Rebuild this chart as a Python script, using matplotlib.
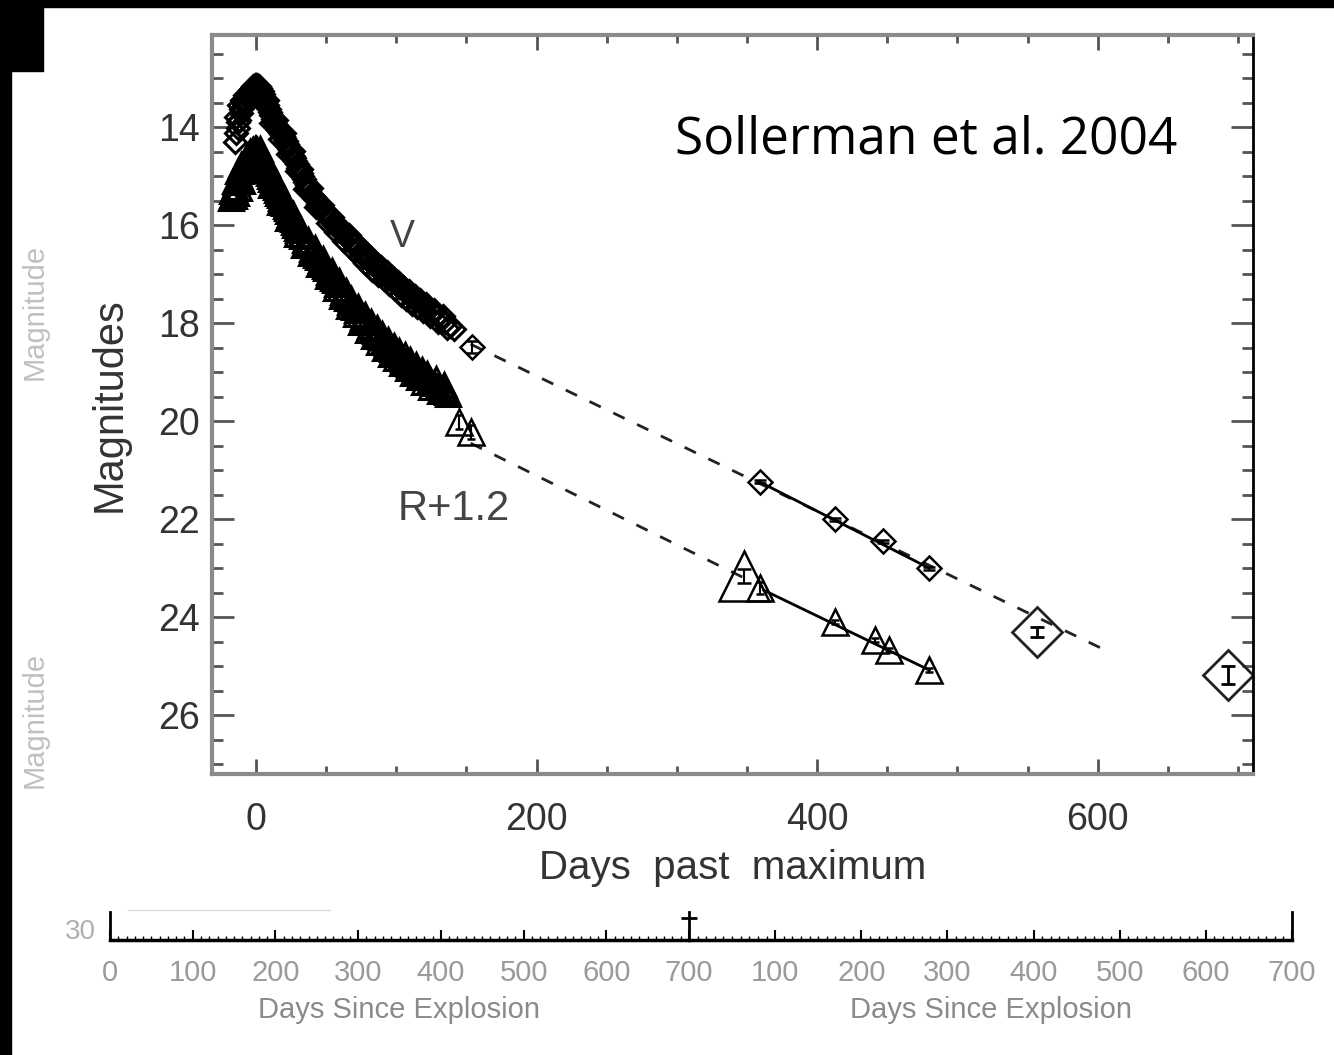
import matplotlib
matplotlib.use("Agg")
import matplotlib.pyplot as plt
from matplotlib.patches import Rectangle
from matplotlib.ticker import MultipleLocator

plt.rcParams['font.family'] = ['Liberation Sans', 'DejaVu Sans']

# V band (diamonds), days past maximum / magnitude
v_days = [-15, -14, -13, -13, -12, -11, -11, -10, -9, -8, -7, -6, -5, -4, -3, -2, -1, 0,
          1, 2, 3, 4, 5, 6, 7, 8, 9, 10, 11, 12, 13, 14, 15, 16, 17, 18, 19, 20,
          21, 22, 23, 24, 25, 26, 27, 28, 29, 30, 31, 32, 33, 34, 35, 36, 37, 38,
          40, 41, 42, 44, 45, 46, 48, 49, 50, 52, 53, 55, 56, 58, 59, 61, 62, 64,
          65, 67, 68, 70, 72, 73, 75, 77, 79, 80, 82, 84, 86, 88, 90, 92, 94, 96,
          98, 100, 102, 104, 106, 108, 110, 112, 114, 116, 118, 120, 123, 126, 129,
          132, 135, 138, 141]
v_mags = [14.30, 14.12, 14.02, 13.90, 13.85, 13.72, 13.62, 13.60, 13.50, 13.45, 13.38,
          13.33, 13.28, 13.24, 13.20, 13.17, 13.15, 13.14,
          13.15, 13.17, 13.21, 13.27, 13.33, 13.40, 13.47, 13.55, 13.62, 13.70, 13.76,
          13.83, 13.90, 13.95, 14.00, 14.05, 14.09, 14.14, 14.18, 14.22,
          14.28, 14.34, 14.40, 14.46, 14.52, 14.58, 14.64, 14.70, 14.76, 14.83, 14.88,
          14.94, 15.00, 15.06, 15.12, 15.18, 15.24, 15.30,
          15.38, 15.43, 15.47, 15.56, 15.60, 15.65, 15.72, 15.77, 15.80, 15.86, 15.89,
          15.96, 15.99, 16.05, 16.08, 16.14, 16.17, 16.23,
          16.26, 16.32, 16.35, 16.41, 16.47, 16.50, 16.56, 16.62, 16.68, 16.71, 16.77,
          16.82, 16.87, 16.92, 16.97, 17.02, 17.07, 17.11,
          17.16, 17.21, 17.26, 17.30, 17.35, 17.40, 17.44, 17.49, 17.53, 17.57, 17.61,
          17.65, 17.72, 17.79, 17.85,
          17.92, 17.98, 18.05, 18.12]
# second V data set (other telescopes), scattered around the first
v2_days = [-14, -12, -10, -8, -5, -2, 2, 5, 8, 11, 14, 17, 20, 23, 26, 29, 32, 35, 39,
           43, 47, 51, 54, 57, 60, 63, 66, 69, 71, 74, 76, 78, 81, 83, 85, 87, 89, 91,
           93, 95, 97, 99, 101, 103, 105, 107, 109, 111, 113, 115, 117, 119, 121, 124,
           127, 130, 133, 136]
v2_mags = [13.80, 13.55, 13.45, 13.35, 13.40, 13.28, 13.30, 13.50, 13.45, 13.92, 13.85,
           14.25, 14.12, 14.55, 14.48, 14.90, 14.85, 15.27, 15.24,
           15.64, 15.58, 15.96, 15.84, 16.14, 16.03, 16.32, 16.21, 16.50, 16.36, 16.65,
           16.51, 16.77, 16.66, 16.91, 16.76, 17.01, 16.86, 17.10,
           16.96, 17.21, 17.06, 17.31, 17.17, 17.42, 17.26, 17.51, 17.35, 17.60, 17.44,
           17.68, 17.52, 17.76, 17.60, 17.86,
           17.73, 17.98, 17.86, 18.10]

# R+1.2 band (triangles)
r_days = [-17, -16, -15, -14, -13, -12, -11, -10, -9, -8, -7, -6, -5, -4, -3, -2, -1, 0,
          1, 2, 3, 4, 5, 6, 7, 8, 9, 10, 11, 12, 13, 14, 15, 16, 17, 18, 19, 20,
          21, 22, 23, 24, 25, 26, 27, 28, 29, 30, 32, 33, 35, 36, 38, 40, 41, 43, 44,
          46, 47, 49, 50, 52, 53, 55, 56, 58, 60, 62, 63, 65, 67, 69, 70, 72, 74, 76,
          77, 79, 81, 83, 85, 87, 89, 91, 93, 95, 97, 99, 101, 103, 105, 107, 109,
          111, 113, 115, 117, 119, 121, 124, 127, 130, 133, 136]
r_mags = [15.40, 15.30, 15.22, 15.12, 15.05, 14.97, 14.90, 14.82, 14.76, 14.70, 14.64,
          14.59, 14.55, 14.51, 14.48, 14.46, 14.45, 14.44,
          14.46, 14.50, 14.55, 14.61, 14.67, 14.73, 14.80, 14.87, 14.94, 15.00, 15.06,
          15.12, 15.17, 15.23, 15.28, 15.34, 15.39, 15.45, 15.50, 15.55,
          15.61, 15.66, 15.72, 15.77, 15.83, 15.88, 15.94, 15.99, 16.05, 16.10, 16.18,
          16.22, 16.30, 16.34, 16.41, 16.48, 16.52, 16.60, 16.64,
          16.72, 16.76, 16.84, 16.88, 16.96, 17.00, 17.08, 17.12, 17.20, 17.28, 17.36,
          17.40, 17.48, 17.56, 17.63, 17.67, 17.74, 17.81, 17.88,
          17.92, 17.98, 18.05, 18.11, 18.17, 18.23, 18.29, 18.35, 18.41, 18.47, 18.52,
          18.58, 18.63, 18.68, 18.73, 18.78, 18.83,
          18.88, 18.92, 18.97, 19.01, 19.06, 19.10, 19.16, 19.22, 19.28, 19.34, 19.40]
r2_days = [-18, -17, -16, -15, -14, -13, -12, -11, -10, -8, -6, -4, -2, 1, 3, 5, 8, 11,
           14, 17, 20, 23, 26, 29, 31, 34, 37, 39, 42, 45, 48, 51, 54, 57, 59, 61, 64,
           66, 68, 71, 73, 75, 78, 80, 82, 84, 86, 88, 90, 92, 94, 96, 98, 100, 102,
           104, 106, 108, 110, 112, 114, 116, 118, 120, 122, 125, 128, 131, 134, 137]
r2_mags = [15.45, 15.30, 15.40, 15.10, 15.35, 14.90, 15.25, 14.78, 15.10, 14.85, 14.70,
           14.62, 14.58, 14.58, 14.45, 14.80, 14.75, 15.18,
           15.12, 15.52, 15.45, 15.85, 15.78, 16.18, 16.05, 16.40, 16.30, 16.56, 16.46,
           16.80, 16.70, 17.04, 16.94, 17.28, 17.14, 17.44, 17.34,
           17.64, 17.50, 17.82, 17.68, 17.98, 17.84, 18.13, 17.98, 18.26, 18.10, 18.38,
           18.22, 18.50, 18.34, 18.62, 18.46, 18.72, 18.56,
           18.82, 18.66, 18.92, 18.76, 19.02, 18.86, 19.10, 18.96, 19.20, 19.04, 19.30,
           19.14, 19.38, 19.26, 19.44]

# late-time photometry
v_late_days = [153.6, 359, 413, 447, 480]
v_late_mags = [18.49, 21.24, 22.00, 22.45, 23.00]
v_late_err = [0.12, 0.03, 0.03, 0.03, 0.03]
v_big_days = [557, 693]
v_big_mags = [24.31, 25.18]
v_big_err = [0.10, 0.19]

r_late_days = [145, 153, 359, 413, 441, 451, 480]
r_late_mags = [20.02, 20.22, 23.41, 24.10, 24.47, 24.67, 25.08]
r_late_err = [0.15, 0.15, 0.12, 0.04, 0.04, 0.04, 0.04]
r_big_days = [348]
r_big_mags = [23.16]
r_big_err = [0.15]

# decline fits
v_dash_days = [153, 603]
v_dash_mags = [18.43, 24.64]
v_solid_days = [359, 480]
v_solid_mags = [21.24, 23.00]
r_dash_days = [153, 348]
r_dash_mags = [20.45, 23.20]
r_solid_days = [362, 480]
r_solid_mags = [23.45, 25.08]

xtick_vals = [0, 200, 400, 600]
ytick_vals = [14, 16, 18, 20, 22, 24, 26]
expl_ticks_a = [0, 100, 200, 300, 400, 500, 600, 700]
expl_ticks_b = [100, 200, 300, 400, 500, 600, 700]

W, H = 1334, 1055
fig = plt.figure(figsize=(W / 100, H / 100), dpi=100)
fig.patch.set_facecolor('white')

# black scan borders
for rect in [(0, H - 7, W, 7), (0, H - 71, 43, 71), (0, 0, 11, H)]:
    fig.patches.append(Rectangle((rect[0] / W, rect[1] / H), rect[2] / W, rect[3] / H,
                                 transform=fig.transFigure, color='black', zorder=0))

ax = fig.add_axes([212 / W, 1 - 774 / H, (1253 - 212) / W, (774 - 35) / H])
dark = '#333333'

ax.plot(v_dash_days, v_dash_mags, color='#222222', lw=2, dashes=(4.5, 5))
ax.plot(r_dash_days, r_dash_mags, color='#222222', lw=2, dashes=(4.5, 5))
ax.plot(v_solid_days, v_solid_mags, color='black', lw=2)
ax.plot(r_solid_days, r_solid_mags, color='black', lw=2)

dense = dict(ls='none', mfc='none', mec='black', mew=2.2)
ax.plot(v_days, v_mags, marker='D', ms=11.5, **dense)
ax.plot(v2_days, v2_mags, marker='D', ms=11.5, **dense)
ax.plot(r_days, r_mags, marker='^', ms=17, **dense)
ax.plot(r2_days, r2_mags, marker='^', ms=17, **dense)

ax.errorbar(v_late_days, v_late_mags, yerr=v_late_err, ls='none', marker='D', ms=12.5,
            mfc='none', mec='black', mew=1.8, ecolor='black', elinewidth=1.5, capsize=4)
ax.errorbar(v_big_days, v_big_mags, yerr=v_big_err, ls='none', marker='D', ms=25,
            mfc='none', mec='#222222', mew=2, ecolor='black', elinewidth=2, capsize=5)
ax.errorbar(r_late_days, r_late_mags, yerr=r_late_err, ls='none', marker='^', ms=19,
            mfc='none', mec='black', mew=1.8, ecolor='black', elinewidth=1.5, capsize=3)
ax.errorbar(r_big_days, r_big_mags, yerr=r_big_err, ls='none', marker='^', ms=36,
            mfc='none', mec='black', mew=1.8, ecolor='black', elinewidth=1.5, capsize=5)

ax.set_xlim(-31.4, 710.7)
ax.set_ylim(27.2, 12.12)
ax.set_xticks(xtick_vals)
ax.set_yticks(ytick_vals)
ax.xaxis.set_minor_locator(MultipleLocator(50))
ax.yaxis.set_minor_locator(MultipleLocator(0.5))
ax.tick_params(axis='both', which='both', direction='in', top=True, right=True,
               colors='#555555', labelcolor=dark, labelsize=27, width=2)
ax.tick_params(axis='y', which='major', length=16, pad=9)
ax.tick_params(axis='y', which='minor', length=8)
ax.tick_params(axis='x', which='major', length=11, pad=20)
ax.tick_params(axis='x', which='minor', length=6)
for side in ['left', 'top', 'bottom']:
    ax.spines[side].set_color('#8a8a8a')
    ax.spines[side].set_linewidth(3)
ax.spines['right'].set_color('black')
ax.spines['right'].set_linewidth(2)

ax.set_xlabel('Days  past  maximum', fontsize=29, color=dark, labelpad=8)
ax.set_ylabel('Magnitudes', fontsize=30, color=dark, labelpad=20)
ax.text(104, 16.25, 'V', fontsize=27, color='#444444', ha='center', va='center')
ax.text(141, 21.8, 'R+1.2', fontsize=30, color='#444444', ha='center', va='center')
fig.text(675 / W, 1 - 140 / H, 'Sollerman et al. 2004', fontsize=37, family='Open Sans',
         color='black', ha='left', va='center')

# days since explosion strip
grey = '#9a9a9a'
strip_h = 28 / H
ax_a = fig.add_axes([110 / W, 1 - 940 / H, (689 - 110) / W, strip_h])
ax_b = fig.add_axes([689 / W, 1 - 940 / H, (1292 - 689) / W, strip_h])
for a, ticks in [(ax_a, expl_ticks_a), (ax_b, expl_ticks_b)]:
    a.set_facecolor('none')
    a.set_xlim(0, 700)
    a.set_ylim(0, 1)
    a.set_xticks(ticks)
    a.xaxis.set_minor_locator(MultipleLocator(10))
    a.tick_params(axis='x', which='major', direction='in', length=7, width=1.5,
                  color='black', labelsize=21, labelcolor=grey, pad=14)
    a.tick_params(axis='x', which='minor', direction='in', length=3, width=1, color='black')
    a.spines['top'].set_visible(False)
    a.spines['bottom'].set_linewidth(2.5)
    a.set_xlabel('Days Since Explosion', fontsize=21, color='#8a8a8a', labelpad=6)
ax_a.spines['right'].set_visible(False)
ax_a.spines['left'].set_linewidth(2)
ax_a.set_yticks([])
ax_b.spines['left'].set_linewidth(2)
ax_b.spines['right'].set_linewidth(2)
ax_b.set_yticks([0.78])
ax_b.set_yticklabels([''])
ax_b.tick_params(axis='y', direction='inout', length=12, width=2, left=True, right=False)

fig.text(80 / W, 1 - 932 / H, '30', fontsize=20, color='#b0b0b0', ha='center', va='center')
fig.lines.append(plt.Line2D([128 / W, 330 / W], [1 - 910 / H, 1 - 910 / H],
                            transform=fig.transFigure, color='#dddddd', lw=1))
for yc in [312, 720]:
    fig.text(35 / W, 1 - yc / H, 'Magnitude', fontsize=21, color='#c0c0c0',
             rotation=90, ha='center', va='center')

fig.savefig('out.png', dpi=100, facecolor='white')
